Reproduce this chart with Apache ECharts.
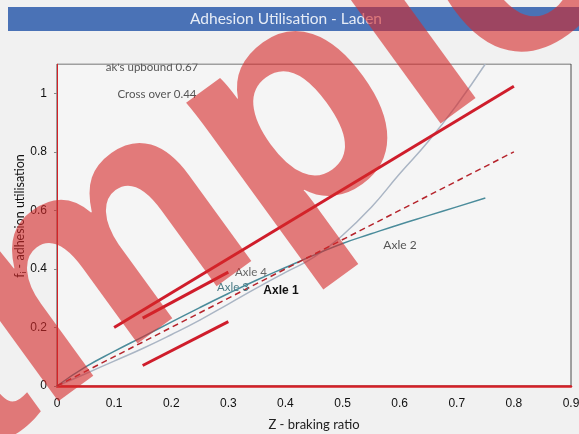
<!DOCTYPE html>
<html>
<head>
<meta charset="utf-8">
<script src="https://cdn.jsdelivr.net/npm/echarts@6/dist/echarts.min.js"></script>
<style>
  html, body { margin: 0; padding: 0; background: #f1f1f1; }
  #chart { width: 579px; height: 434px; }
</style>
</head>
<body>
<div id="chart"></div>
<script>
// Braking ratio sample points for the axle curves
const zValues = [0, 0.05, 0.1, 0.15, 0.2, 0.25, 0.3, 0.35, 0.4, 0.45, 0.5, 0.55, 0.6, 0.65, 0.7, 0.75];
// Adhesion utilisation per axle
const axle1 = [0, 0.042, 0.085, 0.128, 0.175, 0.225, 0.28, 0.335, 0.388, 0.44, 0.515, 0.61, 0.725, 0.835, 0.96, 1.1];
const axle2 = [0, 0.065, 0.118, 0.168, 0.218, 0.268, 0.316, 0.362, 0.405, 0.447, 0.487, 0.52, 0.552, 0.582, 0.612, 0.642];
// Reference lines: ideal (f = z) and the permitted band limits
const idealLine = [[0, 0], [0.8, 0.8]];
const upperLimit = [[0.1, 0.2], [0.8, 1.024]];
const bandUpper = [[0.15, 0.232], [0.3, 0.389]];
const bandLower = [[0.15, 0.07], [0.3, 0.22]];
// Axis ticks
const xTicks = { min: 0, max: 0.9, step: 0.1 };
const yTicks = { min: 0, max: 1.1, step: 0.2 };

const toPairs = (xs, ys) => xs.map((x, i) => [x, ys[i]]);

const chart = echarts.init(document.getElementById('chart'));
const bg = '#f1f1f1';
const redLine = '#cf1d2b';
const centred = { align: 'center', verticalAlign: 'middle', textAlign: 'center', textVerticalAlign: 'middle' };

chart.setOption({
  backgroundColor: bg,
  animation: false,
  grid: {
    left: 57, right: 8, top: 64, bottom: 48,
    outerBoundsMode: 'none',
    show: true, borderColor: '#4a4a4a', borderWidth: 1, backgroundColor: '#f5f5f5'
  },
  xAxis: {
    type: 'value', min: xTicks.min, max: xTicks.max, interval: xTicks.step,
    name: 'Z - braking ratio', nameLocation: 'middle', nameGap: 32,
    nameTextStyle: { fontFamily: 'Lato', fontSize: 13, color: '#222' },
    axisLine: { lineStyle: { color: '#d42027', width: 2.5 } },
    axisTick: { show: false },
    splitLine: { show: false },
    axisLabel: { fontFamily: 'Liberation Sans', fontSize: 12, color: '#111', margin: 12,
      formatter: v => (Math.round(v * 10) / 10).toString() }
  },
  yAxis: {
    type: 'value', min: yTicks.min, max: yTicks.max, interval: yTicks.step,
    axisLine: { lineStyle: { color: '#d42027', width: 1 } },
    axisTick: { show: true, length: 3, lineStyle: { color: '#888' } },
    splitLine: { show: false },
    axisLabel: { fontFamily: 'Liberation Sans', fontSize: 12, color: '#111', margin: 10,
      showMaxLabel: false,
      formatter: v => (Math.round(v * 10) / 10).toString() }
  },
  series: [
    { name: 'Axle 1', type: 'line', data: toPairs(zValues, axle1), smooth: true, symbol: 'none',
      lineStyle: { color: '#aab5c4', width: 1.5 } },
    { name: 'Axle 2', type: 'line', data: toPairs(zValues, axle2), smooth: true, symbol: 'none',
      lineStyle: { color: '#4b8c9b', width: 1.5 } },
    { name: 'Ideal', type: 'line', data: idealLine, symbol: 'none',
      lineStyle: { color: '#b5232b', width: 1.5, type: [6, 4] } },
    { name: 'Upper limit', type: 'line', data: upperLimit, symbol: 'none',
      lineStyle: { color: redLine, width: 3 } },
    { name: 'Band upper', type: 'line', data: bandUpper, symbol: 'none',
      lineStyle: { color: redLine, width: 3 } },
    { name: 'Band lower', type: 'line', data: bandLower, symbol: 'none',
      lineStyle: { color: redLine, width: 3 } }
  ],
  graphic: [
    // title band
    { type: 'rect', shape: { x: 8, y: 7, width: 571, height: 24 }, style: { fill: '#4a72b6' }, z: 10 },
    { type: 'text', x: 286, y: 19, z: 11,
      style: Object.assign({ text: 'Adhesion Utilisation - Laden', fontFamily: 'Lato', fontSize: 15.5,
        fill: '#e6ecf6' }, centred) },
    // vertical axis title
    { type: 'text', x: 20, y: 216, rotation: Math.PI / 2, z: 5,
      style: Object.assign({ text: 'f\u1D62 - adhesion utilisation', fontFamily: 'Lato', fontSize: 12.5, fill: '#111' }, centred) },
    // notes at the top of the plot
    { type: 'text', x: 152, y: 67, z: 5,
      style: Object.assign({ text: "ak's upbound 0.67", fontFamily: 'Lato', fontSize: 11.5, fill: '#555' }, centred) },
    { type: 'rect', shape: { x: 57, y: 40, width: 514, height: 23.5 }, style: { fill: bg }, z: 6 },
    { type: 'text', x: 157, y: 94, z: 5,
      style: Object.assign({ text: 'Cross over 0.44', fontFamily: 'Lato', fontSize: 11.5, fill: '#555' }, centred) },
    // curve labels
    { type: 'text', x: 400, y: 245, z: 5,
      style: Object.assign({ text: 'Axle 2', fontFamily: 'Lato', fontSize: 12, fill: '#555' }, centred) },
    { type: 'text', x: 281, y: 291, z: 5,
      style: Object.assign({ text: 'Axle 1', fontFamily: 'Liberation Sans', fontWeight: 'bold', fontSize: 12, fill: '#111' }, centred) },
    { type: 'text', x: 251, y: 272, z: 5,
      style: Object.assign({ text: 'Axle 4', fontFamily: 'Lato', fontSize: 11.5, fill: '#666' }, centred) },
    { type: 'text', x: 233, y: 287, z: 5,
      style: Object.assign({ text: 'Axle 3', fontFamily: 'Lato', fontSize: 11.5, fill: '#4d7c86' }, centred) },
    // watermark
    { type: 'text', x: 131, y: 241, rotation: 36 * Math.PI / 180, z: 50, silent: true,
      style: Object.assign({ text: 'Sample', fontFamily: 'Liberation Sans', fontWeight: 'bold', fontSize: 315,
        fill: 'rgba(214, 40, 40, 0.6)' }, centred) }
  ]
});
</script>
</body>
</html>
